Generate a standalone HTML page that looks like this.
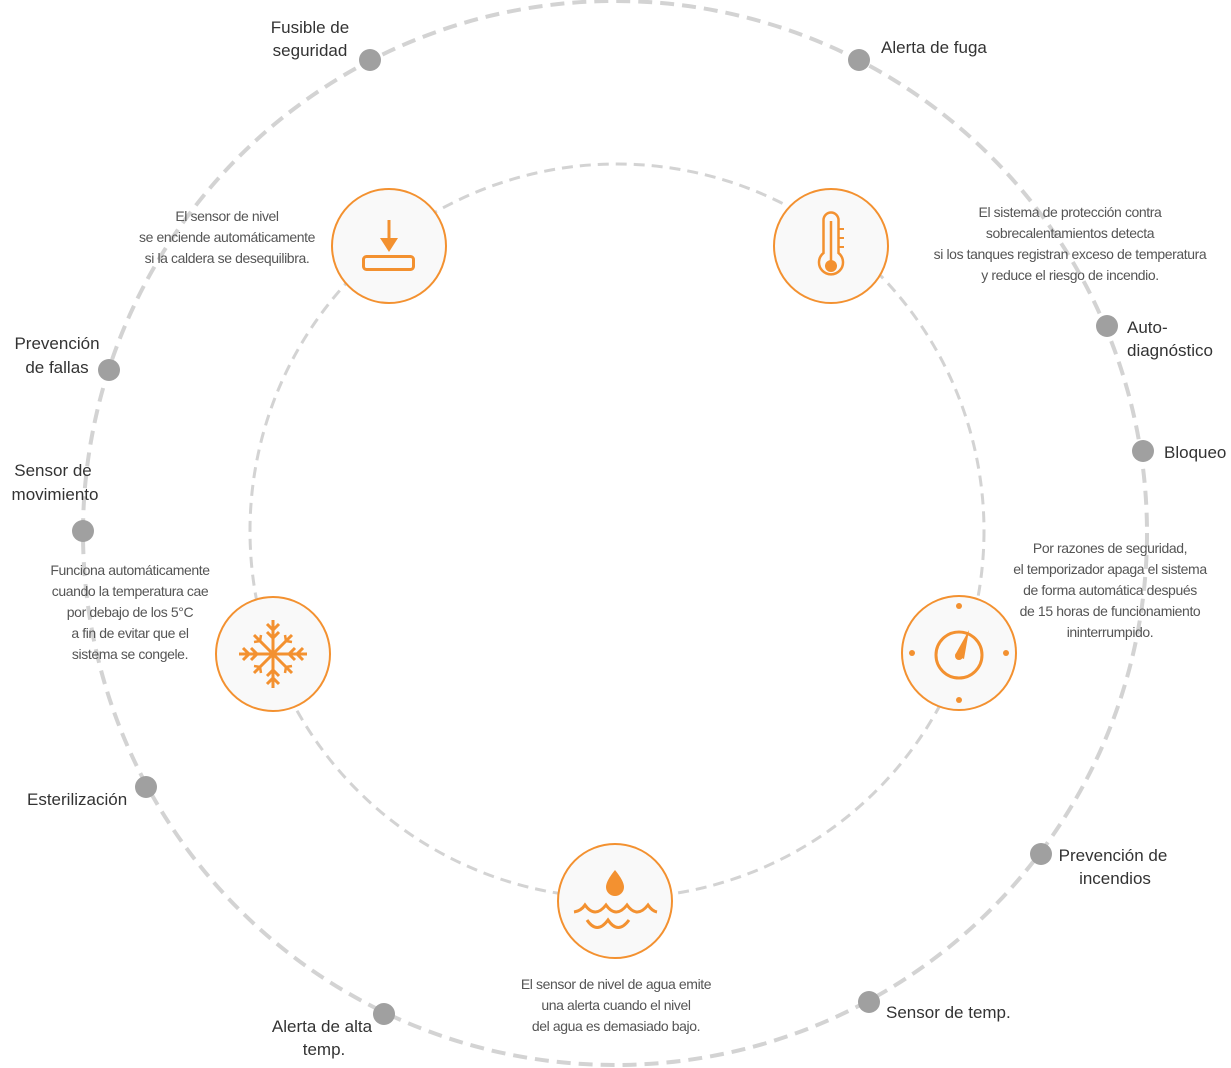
<!DOCTYPE html>
<html><head><meta charset="utf-8"><style>
html,body{margin:0;padding:0;background:#fff;}
svg{display:block}
.l{font-family:"Liberation Sans",sans-serif;font-size:17px;fill:#333;}
.d{font-family:"Liberation Sans",sans-serif;font-size:14px;fill:#555;letter-spacing:-0.4px}
</style></head><body>
<svg width="1231" height="1068" viewBox="0 0 1231 1068" xmlns="http://www.w3.org/2000/svg">
<circle cx="615" cy="533" r="532" fill="none" stroke="#d3d3d3" stroke-width="4" stroke-dasharray="14 8"/>
<circle cx="617" cy="531" r="367" fill="none" stroke="#d3d3d3" stroke-width="3" stroke-dasharray="11 7"/>
<g fill="#a0a0a0">
<circle cx="370" cy="60" r="11"/><circle cx="859" cy="60" r="11"/>
<circle cx="1107" cy="326" r="11"/><circle cx="1143" cy="451" r="11"/>
<circle cx="1041" cy="854" r="11"/><circle cx="869" cy="1002" r="11"/>
<circle cx="384" cy="1014" r="11"/><circle cx="146" cy="787" r="11"/>
<circle cx="83" cy="531" r="11"/><circle cx="109" cy="370" r="11"/>
</g>
<g class="l">
<text x="310" y="33" text-anchor="middle">Fusible de</text>
<text x="310" y="56" text-anchor="middle">seguridad</text>
<text x="881" y="53">Alerta de fuga</text>
<text x="1127" y="333">Auto-</text>
<text x="1127" y="356">diagnóstico</text>
<text x="1164" y="458">Bloqueo</text>
<text x="1113" y="861" text-anchor="middle">Prevención de</text>
<text x="1115" y="884" text-anchor="middle">incendios</text>
<text x="886" y="1018">Sensor de temp.</text>
<text x="322" y="1032" text-anchor="middle">Alerta de alta</text>
<text x="324" y="1055" text-anchor="middle">temp.</text>
<text x="27" y="805">Esterilización</text>
<text x="53" y="476" text-anchor="middle">Sensor de</text>
<text x="55" y="500" text-anchor="middle">movimiento</text>
<text x="57" y="349" text-anchor="middle">Prevención</text>
<text x="57" y="373" text-anchor="middle">de fallas</text>
</g>
<g class="d" text-anchor="middle">
<text x="227" y="221">El sensor de nivel</text>
<text x="227" y="242">se enciende automáticamente</text>
<text x="227" y="263">si la caldera se desequilibra.</text>
<text x="1070" y="217">El sistema de protección contra</text>
<text x="1070" y="238">sobrecalentamientos detecta</text>
<text x="1070" y="259">si los tanques registran exceso de temperatura</text>
<text x="1070" y="280">y reduce el riesgo de incendio.</text>
<text x="1110" y="553">Por razones de seguridad,</text>
<text x="1110" y="574">el temporizador apaga el sistema</text>
<text x="1110" y="595">de forma automática después</text>
<text x="1110" y="616">de 15 horas de funcionamiento</text>
<text x="1110" y="637">ininterrumpido.</text>
<text x="130" y="575">Funciona automáticamente</text>
<text x="130" y="596">cuando la temperatura cae</text>
<text x="130" y="617">por debajo de los 5°C</text>
<text x="130" y="638">a fin de evitar que el</text>
<text x="130" y="659">sistema se congele.</text>
<text x="616" y="989">El sensor de nivel de agua emite</text>
<text x="616" y="1010">una alerta cuando el nivel</text>
<text x="616" y="1031">del agua es demasiado bajo.</text>
</g>
<g fill="#f9f9f9" stroke="#f39130" stroke-width="2">
<circle cx="389" cy="246" r="57"/><circle cx="831" cy="246" r="57"/>
<circle cx="273" cy="654" r="57"/><circle cx="959" cy="653" r="57"/>
<circle cx="615" cy="901" r="57"/>
</g>
<g stroke="#f39130" fill="none" stroke-width="3">
<line x1="389" y1="220" x2="389" y2="240"/>
<rect x="363.5" y="256.5" width="50" height="13" rx="3"/>
<path d="M823.5 253 V220 a7.5 7.5 0 0 1 15 0 V253 a12 12 0 1 1 -15 0 Z" stroke-width="2.5"/>
<line x1="831" y1="221" x2="831" y2="264" stroke-width="2.5"/>
<line x1="838" y1="229" x2="844" y2="229" stroke-width="2"/>
<line x1="838" y1="238" x2="844" y2="238" stroke-width="2"/>
<line x1="838" y1="247" x2="844" y2="247" stroke-width="2"/>
<circle cx="959" cy="655" r="23" stroke-width="3"/>
<path d="M574 912 q7 -1 11 -7 q10 14 21 0 q10 14 21 0 q10 14 21 0 q4 6 9 7" stroke-width="3"/>
<path d="M587 920 q10 15 21 0 q10 15 21 0" stroke-width="3"/>
<g transform="translate(273,654)" stroke-width="3">
<line x1="-34" y1="0" x2="34" y2="0"/><line x1="0" y1="-34" x2="0" y2="34"/>
<line x1="-19" y1="-19" x2="19" y2="19"/><line x1="19" y1="-19" x2="-19" y2="19"/>
<g id="br"><path d="M-6 -30 L0 -24 L6 -30 M-6 -22 L0 -16 L6 -22"/></g>
<use href="#br" transform="rotate(90)"/><use href="#br" transform="rotate(180)"/><use href="#br" transform="rotate(270)"/>
<path d="M-19 -12 L-13 -13 L-12 -19 M12 -19 L13 -13 L19 -12 M19 12 L13 13 L12 19 M-12 19 L-13 13 L-19 12" stroke-width="2.5"/>
</g>
</g>
<g fill="#f39130">
<path d="M380 238 L398 238 L389 252 Z"/>
<circle cx="831" cy="266" r="6"/>
<circle cx="959" cy="606" r="3"/><circle cx="959" cy="700" r="3"/>
<circle cx="912" cy="653" r="3"/><circle cx="1006" cy="653" r="3"/>
<path d="M955 655 L969 630 L964 659 Z"/><circle cx="959" cy="656" r="4"/>
<path d="M615 870 q-9 11 -9 17 a9 9 0 0 0 18 0 q0 -6 -9 -17 Z"/>
</g>
</svg>
</body></html>
